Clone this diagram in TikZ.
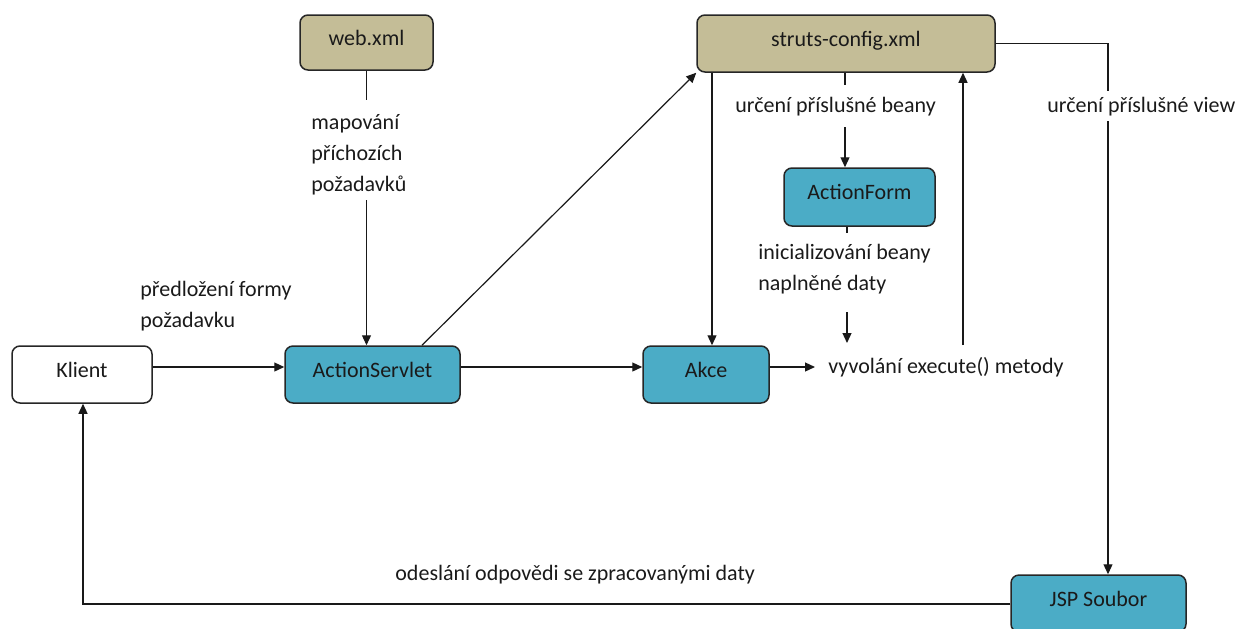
\documentclass[tikz,border=0pt]{standalone}
\usepackage{fontspec}
\setmainfont{Carlito}
\usetikzlibrary{arrows.meta,calc}
\definecolor{tanfill}{HTML}{C4BD97}
\definecolor{bluefill}{HTML}{4BACC6}
\definecolor{txt}{HTML}{1A1A1A}
\begin{document}
\begin{tikzpicture}[x=0.5pt,y=-0.5pt,
  box/.style={draw=black!85, line width=0.75pt, rounded corners=4pt,
    font=\fontsize{11}{13}\selectfont, inner sep=0pt, text=txt,
    text height=8pt, text depth=5.5pt},
  tanbox/.style={box, fill=tanfill},
  bluebox/.style={box, fill=bluefill},
  whitebox/.style={box, fill=white},
  arr/.style={line width=0.6pt, draw=black!90, -{Triangle[length=5pt,width=4.5pt]}},
  ln/.style={line width=0.6pt, draw=black!90},
  lab/.style={font=\fontsize{11}{15.5}\selectfont, align=left, inner sep=0pt,
    anchor=base west, text=txt}]
\useasboundingbox (0,0) rectangle (1237,628);

% boxes
\node[tanbox, minimum width=66.5pt, minimum height=27.5pt] (web) at (366.5,42.5) {web.xml};
\node[tanbox, minimum width=149pt, minimum height=28.5pt] (struts) at (846,43.5) {struts-config.xml};
\node[bluebox, minimum width=75.5pt, minimum height=29pt] (form) at (859.5,197) {ActionForm};
\node[whitebox, minimum width=70pt, minimum height=28.5pt] (klient) at (82,374.5) {Klient};
\node[bluebox, minimum width=87.5pt, minimum height=28.5pt] (servlet) at (372.5,374.5) {ActionServlet};
\node[bluebox, minimum width=63pt, minimum height=28.5pt] (akce) at (706,374.5) {Akce};
\node[bluebox, minimum width=87.5pt, minimum height=28.5pt] (jsp) at (1098.5,603.5) {JSP Soubor};

% labels (base = baseline of last line)
\node[lab] (lmap) at (311,191) {mapování\\příchozích\\požadavků};
\node[lab] (lpred) at (140,327) {předložení formy\\požadavku};
\node[lab] (lbeany) at (735,112) {určení příslušné beany};
\node[lab] (linit) at (758,290) {inicializování beany\\naplněné daty};
\node[lab] (lexec) at (828,373) {vyvolání execute() metody};
\node[lab] (lview) at (1047,112) {určení příslušné view};
\node[lab] (lodes) at (395,580) {odeslání odpovědi se zpracovanými daty};

% helper coordinates
\coordinate (w1) at (366.5,100);
\coordinate (w2) at (366.5,200);
\coordinate (b1) at (845,85);
\coordinate (b2) at (845,127);
\coordinate (f1) at (847,233);
\coordinate (f2) at (847,312);
\coordinate (f3) at (847,343);
\coordinate (up) at (963,345);
\coordinate (ex) at (815,367);
\coordinate (v1) at (1108,43.5);
\coordinate (v2) at (1108,91);
\coordinate (v3) at (1108,121);
\coordinate (r1) at (83,604);

% connectors
\draw[ln] (web.south) -- (w1);
\draw[arr] (w2) -- (w2 |- servlet.north);
\draw[arr] (klient.east |- 0,367) -- (servlet.west |- 0,367);
\draw[arr] (servlet.north -| 422,0) -- (struts.south west);
\draw[arr] (servlet.east |- 0,367) -- (akce.west |- 0,367);
\draw[arr] (akce.east |- ex) -- (ex);
\draw[arr] (struts.south -| 712,0) -- (akce.north -| 712,0);
\draw[ln] (struts.south -| b1) -- (b1);
\draw[arr] (b2) -- (form.north -| b2);
\draw[ln] (form.south -| f1) -- (f1);
\draw[arr] (f2) -- (f3);
\draw[arr] (up) -- (struts.south -| up);
\draw[ln] (struts.east |- v1) -- (v1) -- (v2);
\draw[arr] (v3) -- (jsp.north -| v3);
\draw[arr] (jsp.west |- r1) -- (r1) -- (klient.south -| r1);
\end{tikzpicture}
\end{document}
